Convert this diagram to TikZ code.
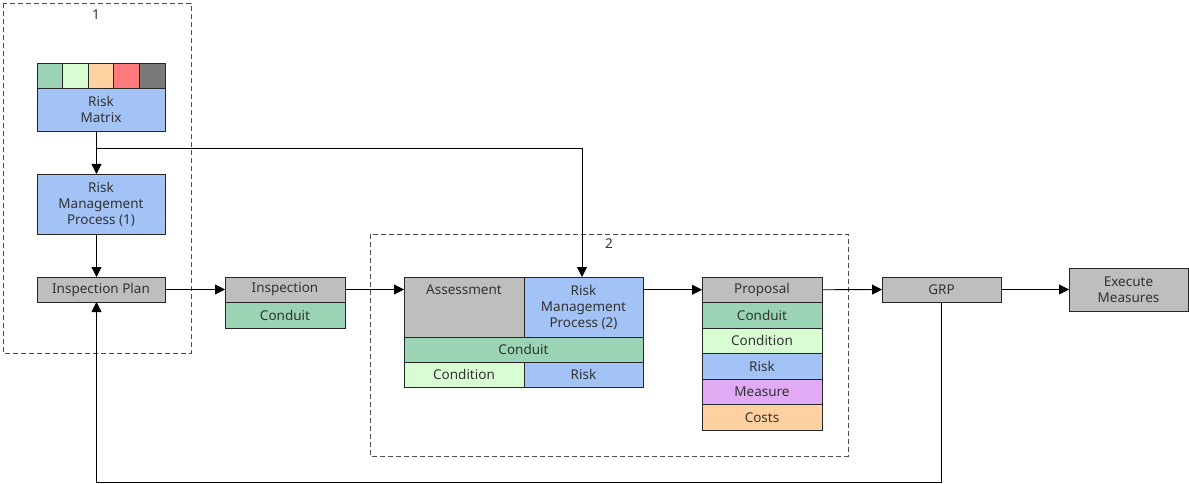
\documentclass[tikz,border=0pt]{standalone}
\usepackage{fontspec}
\setmainfont{Noto Sans}
\usetikzlibrary{arrows.meta}
\usetikzlibrary{calc}

\definecolor{boxgrey}{HTML}{BEBEBE}
\definecolor{conduit}{HTML}{9AD4B4}
\definecolor{condition}{HTML}{D9FDD3}
\definecolor{risk}{HTML}{A3C2F5}
\definecolor{measure}{HTML}{E0AAF5}
\definecolor{costs}{HTML}{FFD1A1}
\definecolor{high}{HTML}{FF7B7B}
\definecolor{extreme}{HTML}{7A7A7A}
\definecolor{ink}{HTML}{333333}

\tikzset{
	panel/.style={draw=black!85, line width=0.8pt, inner sep=0pt, outer sep=0pt,
		anchor=north west, align=center, text=ink, font=\fontsize{13.5}{16}\selectfont},
	label text/.style={text=ink, font=\fontsize{13.5}{16}\selectfont},
	arr/.style={line width=0.8pt, -{Triangle[length=10pt,width=10pt]}},
	frame/.style={draw=black!70, line width=0.8pt, dash pattern=on 5pt off 3pt},
}

\newcommand{\panel}[7] % name, fill, left, top, width, height, text (all in px)
{
	\node[panel, fill=#2, minimum width=#5pt, minimum height=#6pt] (#1) at (#3,#4) {#7};
}

\begin{document}
\begin{tikzpicture}[x=1pt, y=-1pt]
	% canvas 1189 x 484, y runs downwards
	\useasboundingbox (0,0) rectangle (1189,484);

	% dashed groups
	\draw[frame] (3,3) rectangle (191,353);
	\node[label text] (grp1) at (96,15) {1};
	\draw[frame] (370,234) rectangle (848,456);
	\node[label text] (grp2) at (609,244) {2};

	% risk matrix with its colour scale
	\foreach \c [count=\i from 0] in {conduit,condition,costs,high,extreme}
		\panel{rmc\i}{\c}{37+25.6*\i}{63}{25.6}{25}{};
	\panel{rm}{risk}{37}{88}{128}{43}{Risk\\Matrix};
	\panel{rmp1}{risk}{37}{174}{128}{60}{Risk\\Management\\Process (1)};
	\panel{iplan}{boxgrey}{37}{277}{128}{25}{Inspection Plan};

	% inspection
	\panel{insp}{boxgrey}{225}{277}{120}{25}{Inspection};
	\panel{inspc}{conduit}{225}{302}{120}{26}{Conduit};

	% assessment
	\panel{assess}{boxgrey}{404}{277}{120}{60}{};
	\node[label text] (assesstext) at (464,289.5) {Assessment};
	\panel{rmp2}{risk}{524}{277}{119}{60}{Risk\\Management\\Process (2)};
	\panel{asconduit}{conduit}{404}{337}{239}{25}{Conduit};
	\panel{ascond}{condition}{404}{362}{120}{25}{Condition};
	\panel{asrisk}{risk}{524}{362}{119}{25}{Risk};

	% proposal
	\panel{prop}{boxgrey}{702}{277}{120}{25.5}{Proposal};
	\panel{propc}{conduit}{702}{302.5}{120}{25.5}{Conduit};
	\panel{propd}{condition}{702}{328}{120}{25.5}{Condition};
	\panel{propr}{risk}{702}{353.5}{120}{25.5}{Risk};
	\panel{propm}{measure}{702}{379}{120}{25.5}{Measure};
	\panel{propk}{costs}{702}{404.5}{120}{25.5}{Costs};

	% GRP and execution
	\panel{grp}{boxgrey}{882}{277}{119}{25}{GRP};
	\panel{exec}{boxgrey}{1069}{268}{119}{43}{Execute\\Measures};

	% connectors, the left column runs a bit left of the box centres
	\coordinate (spine) at (96.5,0);
	\draw[arr] (rm.south -| spine) -- (rmp1.north -| spine);
	\path (rm.south -| spine) ++(0,17) coordinate (split);
	\draw[arr] (split) -| ([xshift=-1.5pt]rmp2.north);
	\draw[arr] (rmp1.south -| spine) -- (iplan.north -| spine);
	\draw[arr] (iplan) -- (insp);
	\draw[arr] (insp) -- (insp -| assess.west);
	\draw[arr] (rmp2.east |- prop) -- (prop);
	\draw[arr] (prop) -- (grp);
	\draw[arr] (grp) -- (exec);
	\draw[arr] (grp.south) -- ++(0,180) -| (iplan.south -| spine);
\end{tikzpicture}
\end{document}
